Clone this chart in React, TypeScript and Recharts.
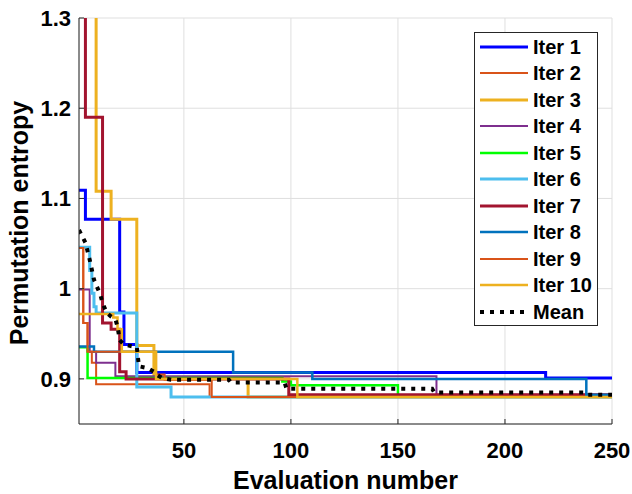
import { LineChart, Line, XAxis, YAxis, CartesianGrid, Legend, Label } from 'recharts';

// Best permutation entropy found so far, one list per optimisation run.
// Each pair is [evaluation, entropy] where the running best changes.
const iter1 = [[1, 1.109], [4, 1.077], [20, 0.974], [22, 0.938], [28, 0.907], [219, 0.901], [250, 0.901]];
const iter2 = [[1, 1.045], [3, 0.962], [5, 0.93], [7, 0.918], [9, 0.894], [62, 0.88], [250, 0.88]];
const iter3 = [[1, 1.45], [9, 1.108], [16, 1.077], [28, 0.937], [36, 0.901], [80, 0.88], [250, 0.88]];
const iter4 = [[1, 0.999], [6, 0.93], [9, 0.918], [18, 0.903], [168, 0.8825], [250, 0.8825]];
const iter5 = [[1, 0.935], [5, 0.901], [96, 0.897], [100, 0.893], [150, 0.882], [250, 0.882]];
const iter6 = [[1, 1.046], [6, 1.02], [7, 0.995], [8, 0.98], [9, 0.973], [28, 0.891], [44, 0.88], [250, 0.88]];
const iter7 = [[1, 1.5], [4, 1.19], [12, 0.962], [16, 0.955], [20, 0.908], [23, 0.9], [99, 0.8825], [250, 0.8825]];
const iter8 = [[1, 0.936], [8, 0.93], [73, 0.907], [110, 0.9], [238, 0.8825], [250, 0.8825]];
const iter9 = [[1, 1.045], [3, 0.962], [5, 0.93], [37, 0.905], [41, 0.899], [63, 0.88], [250, 0.88]];
const iter10 = [[1, 0.972], [17, 0.968], [19, 0.955], [21, 0.93], [37, 0.9], [103, 0.88], [250, 0.88]];

// Mean over the ten runs
const meanCurve = [
    [1, 1.065], [4, 1.051], [6, 1.032], [8, 1.01], [11, 0.993], [12, 0.984], [14, 0.973],
    [16, 0.969], [18, 0.966], [19, 0.958], [20, 0.943], [22, 0.938], [28, 0.935], [29, 0.914],
    [33, 0.912], [36, 0.908], [37, 0.905], [40, 0.901], [44, 0.899], [71, 0.899], [72, 0.896],
    [97, 0.896], [98, 0.889], [166, 0.889], [167, 0.885], [237, 0.885], [238, 0.8825], [250, 0.8825],
];

const seriesNames = ['Iter 1', 'Iter 2', 'Iter 3', 'Iter 4', 'Iter 5', 'Iter 6', 'Iter 7', 'Iter 8', 'Iter 9', 'Iter 10'];
const seriesColors = ['#0000ff', '#d95319', '#edb120', '#7e2f8e', '#00ff00', '#4dbeee', '#a2142f', '#0072bd', '#d95319', '#edb120'];
const lineWidths = [3, 2, 3, 2, 2.5, 3, 3, 2.5, 2, 2.5];

const xTicks = [50, 100, 150, 200, 250];
const yTicks = [0.9, 1, 1.1, 1.2, 1.3];

const runs = [iter1, iter2, iter3, iter4, iter5, iter6, iter7, iter8, iter9, iter10];

const toPoints = (pts: number[][]) => pts.map(([evals, pe]) => ({ evals, pe }));

const series = runs.map((pts, i) => ({
    name: seriesNames[i],
    color: seriesColors[i],
    width: lineWidths[i],
    data: toPoints(pts),
}));

const meanData = toPoints(meanCurve);

const AXIS = '#262626';
const FONT = '"Liberation Sans", Arial, Helvetica, sans-serif';

// Boxed legend in the upper right of the axes
function LegendBox() {
    const items = [
        ...series.map((s) => ({ name: s.name, color: s.color, width: s.width, dash: undefined as string | undefined })),
        { name: 'Mean', color: '#000', width: 4, dash: '4 6' },
    ];
    return (
        <div
            style={{
                boxSizing: 'border-box',
                width: 124,
                height: 294,
                border: `1px solid ${AXIS}`,
                background: '#fff',
                paddingTop: 0.5,
                fontFamily: FONT,
            }}
        >
            {items.map((it) => (
                <div key={it.name} style={{ height: 26.5, display: 'flex', alignItems: 'center' }}>
                    <svg width={58} height={10} style={{ flex: 'none' }}>
                        <line x1={5} x2={53} y1={5} y2={5} stroke={it.color} strokeWidth={it.width} strokeDasharray={it.dash} />
                    </svg>
                    <span style={{ fontSize: 20, fontWeight: 700, color: '#000', lineHeight: 1 }}>{it.name}</span>
                </div>
            ))}
        </div>
    );
}

export default function App() {
    return (
        <div style={{ position: 'absolute', left: 0, top: 0, width: 632, height: 494, background: '#fff', fontFamily: FONT }}>
            <LineChart width={632} height={494} margin={{ top: 18, right: 20, bottom: 0, left: 0 }}>
                <CartesianGrid stroke="#dfdfdf" strokeWidth={1} verticalPoints={undefined} />

                <XAxis
                    dataKey="evals"
                    type="number"
                    domain={[1, 250]}
                    ticks={xTicks}
                    height={70}
                    stroke={AXIS}
                    tickSize={-5}
                    tickMargin={23}
                    tick={{ fontSize: 22, fontWeight: 700, fill: '#000' }}
                    allowDataOverflow
                >
                    <Label
                        value="Evaluation number"
                        position="insideBottom"
                        offset={5}
                        style={{ fontSize: 25, fontWeight: 700, fill: '#000' }}
                    />
                </XAxis>
                <XAxis
                    xAxisId="top"
                    orientation="top"
                    type="number"
                    domain={[1, 250]}
                    ticks={xTicks}
                    height={0}
                    stroke={AXIS}
                    tickSize={-5}
                    tick={false}
                />

                <YAxis
                    type="number"
                    domain={[0.85, 1.3]}
                    ticks={yTicks}
                    width={79}
                    stroke={AXIS}
                    tickSize={-5}
                    tickMargin={13}
                    tick={{ fontSize: 22, fontWeight: 700, fill: '#000' }}
                    tickFormatter={(v: number) => (v === 1 ? '1' : v.toFixed(1))}
                    allowDataOverflow
                >
                    <Label
                        content={(props: any) => {
                            const vb = props.viewBox || { x: 0, y: 18, height: 406 };
                            const cx = vb.x + 28;
                            const cy = vb.y + vb.height / 2 + 2;
                            return (
                                <text
                                    x={cx}
                                    y={cy}
                                    transform={`rotate(-90 ${cx} ${cy})`}
                                    textAnchor="middle"
                                    style={{ fontSize: 25, fontWeight: 700, fill: '#000', fontFamily: FONT }}
                                >
                                    Permutation entropy
                                </text>
                            );
                        }}
                    />
                </YAxis>
                <YAxis
                    yAxisId="right"
                    orientation="right"
                    type="number"
                    domain={[0.85, 1.3]}
                    ticks={yTicks}
                    width={0}
                    stroke={AXIS}
                    tickSize={-5}
                    tick={false}
                />

                {series.map((s) => (
                    <Line
                        key={s.name}
                        data={s.data}
                        dataKey="pe"
                        name={s.name}
                        type="stepAfter"
                        stroke={s.color}
                        strokeWidth={s.width}
                        dot={false}
                        activeDot={false}
                        isAnimationActive={false}
                    />
                ))}
                <Line
                    data={meanData}
                    dataKey="pe"
                    name="Mean"
                    type="linear"
                    stroke="#000"
                    strokeWidth={4}
                    strokeDasharray="4 6"
                    dot={false}
                    activeDot={false}
                    isAnimationActive={false}
                />

                <Legend
                    layout="vertical"
                    align="center"
                    verticalAlign="middle"
                    content={() => <LegendBox />}
                    wrapperStyle={{ left: 474, top: 32, width: 124, height: 294 }}
                />
            </LineChart>
        </div>
    );
}
